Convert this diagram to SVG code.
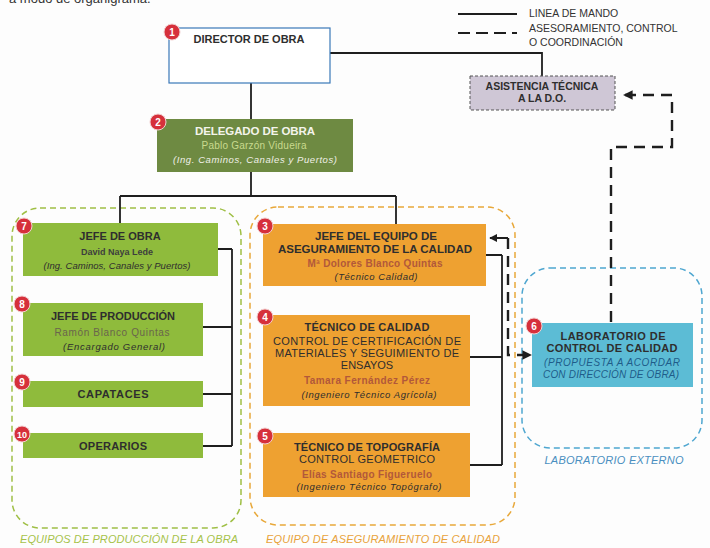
<svg xmlns="http://www.w3.org/2000/svg" width="710" height="548" viewBox="0 0 710 548">
<style>
text{font-family:"Liberation Sans",Arial,sans-serif;text-anchor:middle}
.t{font-weight:bold;font-size:11px;fill:#2e2e2e}
.r{font-size:11px;fill:#2e2e2e}
.n{font-weight:bold;font-size:10px}
.i{font-style:italic;font-size:9.5px;fill:#2e2e2e}
.badge circle{fill:#d6303b;stroke:#f2d0d0;stroke-width:1}
.badge text{font-weight:bold;font-size:10px;fill:#fff}
.green{fill:#8fbb3c}
.orange{fill:#eea131}
.solid{fill:none;stroke:#1e1e1e;stroke-width:1.8}
.dash{fill:none;stroke:#1e1e1e;stroke-width:2.4;stroke-dasharray:11 7}
.leg{font-size:10.5px;fill:#333;text-anchor:start}
.grp{fill:none;stroke-width:1.5;stroke-dasharray:6 4}
.gl{font-style:italic;font-size:11px}
.br{fill:#b2583a;font-weight:bold}
</style>
<defs>
<marker id="ah" viewBox="0 0 10 10" refX="9" refY="5" markerWidth="4" markerHeight="4" orient="auto"><path d="M0,0L10,5L0,10z" fill="#1e1e1e"/></marker>
</defs>
<rect width="710" height="548" fill="#fdfdfd"/>
<text x="9" y="3" style="font-size:13px;fill:#333;text-anchor:start">a modo de organigrama.</text>

<g id="legend">
<line x1="458" y1="14" x2="517" y2="14" class="solid"/>
<line x1="458" y1="33" x2="517" y2="33" class="dash" style="stroke-dasharray:12 6;stroke-width:2"/>
<text x="529" y="17" class="leg">LINEA DE MANDO</text>
<text x="529" y="32" class="leg">ASESORAMIENTO, CONTROL</text>
<text x="529" y="46" class="leg">O COORDINACIÓN</text>
</g>

<g id="groups">
<rect x="12" y="208" width="229" height="320" rx="28" class="grp" stroke="#9fbf45"/>
<text x="129" y="543" class="gl" fill="#a6c24a" textLength="218" lengthAdjust="spacing">EQUIPOS DE PRODUCCIÓN DE LA OBRA</text>
<rect x="250" y="207" width="265" height="318" rx="28" class="grp" stroke="#e8a83a"/>
<text x="383" y="543" class="gl" fill="#e8a23a" textLength="234" lengthAdjust="spacing">EQUIPO DE ASEGURAMIENTO DE CALIDAD</text>
<rect x="522" y="268" width="180" height="180" rx="28" class="grp" stroke="#4ea6d0"/>
<text x="614" y="464" class="gl" fill="#4a8fc0" textLength="139" lengthAdjust="spacing">LABORATORIO EXTERNO</text>
</g>

<g id="connectors">
<path d="M330,53H542V76" class="solid"/>
<path d="M251,83V119" class="solid"/>
<path d="M251,172V196M120,196H396M120,196V223M396,196V224" class="solid"/>
<path d="M218,249H232M203,327H232M203,394H232M203,446H232M232,249V446" class="solid"/>
<path d="M486,255H502M470,357H502M470,465H502M502,255V465" class="solid"/>
<path d="M611,322V147H672V95H624" class="dash" marker-end="url(#ah)"/>
<path d="M508,238V355H531" class="dash" marker-end="url(#ah)"/>
<path d="M508,238H490" class="solid" style="stroke-width:2" marker-end="url(#ah)"/>
</g>

<g id="n1">
<rect x="169" y="28" width="161" height="55" fill="#fff" stroke="#3a78b8" stroke-width="1.2"/>
<text x="249" y="43" class="t">DIRECTOR DE OBRA</text>
<g class="badge"><circle cx="172" cy="32" r="8"/><text x="172" y="35.5">1</text></g>
</g>

<g id="asistencia">
<rect x="470" y="76" width="145" height="34" fill="#cfc7d6" stroke="#555" stroke-width="1" stroke-dasharray="3 2"/>
<text x="542" y="90" class="t" style="font-size:10.5px">ASISTENCIA TÉCNICA</text>
<text x="542" y="102" class="t" style="font-size:10.5px">A LA D.O.</text>
</g>

<g id="n2">
<rect x="157" y="119" width="196" height="53" fill="#6e8a42"/>
<text x="255" y="135" class="t" style="fill:#f4f4ec;font-size:11.5px" textLength="120" lengthAdjust="spacing">DELEGADO DE OBRA</text>
<text x="254" y="149" style="font-size:10px;fill:#c9da8e" textLength="105" lengthAdjust="spacing">Pablo Garzón Vidueira</text>
<text x="255" y="163" class="i" style="fill:#f0f0e8" textLength="164" lengthAdjust="spacing">(Ing. Caminos, Canales y Puertos)</text>
<g class="badge"><circle cx="158" cy="122" r="8"/><text x="158" y="125.5">2</text></g>
</g>

<g id="n7">
<rect x="23" y="223" width="195" height="53" class="green"/>
<text x="120" y="240" class="t">JEFE DE OBRA</text>
<text x="117" y="255" class="n" style="font-size:9px" fill="#3e3e3e" textLength="72" lengthAdjust="spacing">David Naya Lede</text>
<text x="117" y="269" class="i" textLength="147" lengthAdjust="spacing">(Ing. Caminos, Canales y Puertos)</text>
<g class="badge"><circle cx="24" cy="226" r="8"/><text x="24" y="229.5">7</text></g>
</g>

<g id="n8">
<rect x="23" y="303" width="180" height="53" class="green"/>
<text x="113" y="320" class="t">JEFE DE PRODUCCIÓN</text>
<text x="112" y="336" style="font-size:10px;fill:#6a654c" textLength="115" lengthAdjust="spacing">Ramón Blanco Quintas</text>
<text x="114" y="350" class="i" textLength="102" lengthAdjust="spacing">(Encargado General)</text>
<g class="badge"><circle cx="22" cy="304" r="8"/><text x="22" y="307.5">8</text></g>
</g>

<g id="n9">
<rect x="23" y="381" width="180" height="26" class="green"/>
<text x="113" y="398" class="t" textLength="71" lengthAdjust="spacing">CAPATACES</text>
<g class="badge"><circle cx="22" cy="382" r="8"/><text x="22" y="385.5">9</text></g>
</g>

<g id="n10">
<rect x="23" y="433" width="180" height="25" class="green"/>
<text x="113" y="450" class="t" textLength="68" lengthAdjust="spacing">OPERARIOS</text>
<g class="badge"><circle cx="22" cy="434" r="8"/><text x="22" y="437.5" style="font-size:9px">10</text></g>
</g>

<g id="n3">
<rect x="263" y="224" width="223" height="62" class="orange"/>
<text x="376" y="240" class="t" style="font-size:11.5px" textLength="122" lengthAdjust="spacing">JEFE DEL EQUIPO DE</text>
<text x="375" y="253" class="t" style="font-size:11.5px" textLength="194" lengthAdjust="spacing">ASEGURAMIENTO DE LA CALIDAD</text>
<text x="375" y="267" class="n br" textLength="135" lengthAdjust="spacing">Mª Dolores Blanco Quintas</text>
<text x="376" y="280" class="i" textLength="83" lengthAdjust="spacing">(Técnico Calidad)</text>
<g class="badge"><circle cx="265" cy="226" r="8"/><text x="265" y="229.5">3</text></g>
</g>

<g id="n4">
<rect x="263" y="315" width="207" height="91" class="orange"/>
<text x="367" y="331" class="t" textLength="125" lengthAdjust="spacing">TÉCNICO DE CALIDAD</text>
<text x="367" y="345" class="r" textLength="188" lengthAdjust="spacing">CONTROL DE CERTIFICACIÓN DE</text>
<text x="367" y="357" class="r" textLength="184" lengthAdjust="spacing">MATERIALES Y SEGUIMIENTO DE</text>
<text x="367" y="369" class="r">ENSAYOS</text>
<text x="367" y="384" class="n br" textLength="126" lengthAdjust="spacing">Tamara Fernández Pérez</text>
<text x="369" y="398" class="i" textLength="135" lengthAdjust="spacing">(Ingeniero Técnico Agrícola)</text>
<g class="badge"><circle cx="265" cy="317" r="8"/><text x="265" y="320.5">4</text></g>
</g>

<g id="n5">
<rect x="263" y="433" width="207" height="64" class="orange"/>
<text x="367" y="451" class="t" textLength="146" lengthAdjust="spacing">TÉCNICO DE TOPOGRAFÍA</text>
<text x="367" y="463" class="r" textLength="136" lengthAdjust="spacing">CONTROL GEOMETRICO</text>
<text x="367" y="478" class="n br" textLength="130" lengthAdjust="spacing">Elías Santiago Figueruelo</text>
<text x="369" y="490" class="i" textLength="145" lengthAdjust="spacing">(Ingeniero Técnico Topógrafo)</text>
<g class="badge"><circle cx="265" cy="436" r="8"/><text x="265" y="439.5">5</text></g>
</g>

<g id="n6">
<rect x="532" y="323" width="161" height="64" fill="#5cbcd5"/>
<text x="613" y="340" class="t" textLength="105" lengthAdjust="spacing">LABORATORIO DE</text>
<text x="612" y="352" class="t" textLength="131" lengthAdjust="spacing">CONTROL DE CALIDAD</text>
<text x="612" y="366" class="i" style="fill:#1f5c8a;font-size:10px" textLength="136" lengthAdjust="spacing">(PROPUESTA A ACORDAR</text>
<text x="611" y="378" class="i" style="fill:#1f5c8a;font-size:10px" textLength="136" lengthAdjust="spacing">CON DIRECCIÓN DE OBRA)</text>
<g class="badge"><circle cx="534" cy="326" r="8"/><text x="534" y="329.5">6</text></g>
</g>
</svg>
